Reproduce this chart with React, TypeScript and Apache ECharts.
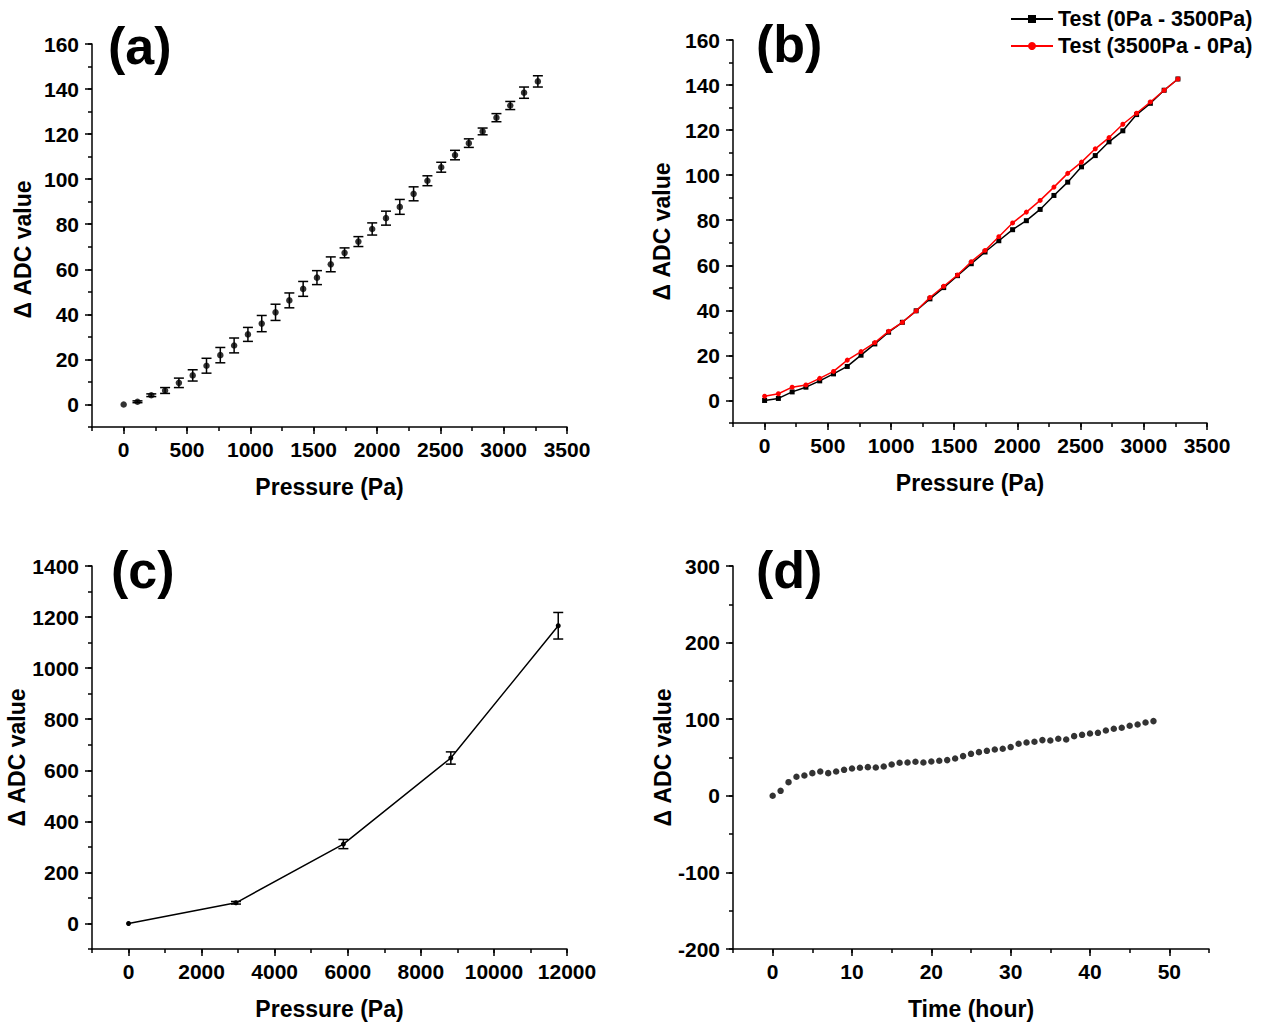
import React, { useEffect, useRef } from "react";
import * as echarts from "echarts";

const FONT = "'Liberation Sans', Arial, Helvetica, sans-serif";

// Panel (a)
const pressureA = [0, 109, 218, 327, 436, 545, 654, 763, 872, 981, 1090, 1199, 1308, 1417, 1526, 1635, 1744, 1853, 1962, 2071, 2180, 2289, 2398, 2507, 2616, 2725, 2834, 2943, 3052, 3161, 3270];
const adcA = [0, 1.2, 4.1, 6.2, 9.6, 12.9, 17.2, 21.9, 26.2, 31.1, 35.9, 40.9, 46.2, 51.3, 56.3, 62.2, 67.3, 72.3, 77.9, 82.7, 87.7, 93.5, 99.3, 105.3, 110.7, 116.0, 121.2, 127.3, 132.7, 138.4, 143.4];
const errA = [0, 0.4, 0.6, 1.3, 2.1, 2.5, 3.3, 3.4, 3.3, 3.1, 3.6, 3.6, 3.3, 3.3, 3.1, 3.3, 2.2, 2.2, 2.7, 3.1, 3.3, 3.1, 2.2, 2.2, 2.1, 1.9, 1.5, 1.8, 1.8, 2.5, 2.5];

// Panel (b)
const nameUp = "Test (0Pa - 3500Pa)";
const nameDown = "Test (3500Pa - 0Pa)";
const pressureB = [0, 109, 218, 327, 436, 545, 654, 763, 872, 981, 1090, 1199, 1308, 1417, 1526, 1635, 1744, 1853, 1962, 2071, 2180, 2289, 2398, 2507, 2616, 2725, 2834, 2943, 3052, 3161, 3270];
const adcUp = [0, 0.9, 3.8, 5.9, 8.7, 11.8, 15.1, 20.1, 25.1, 30.3, 34.7, 39.8, 45.1, 50.1, 55.4, 60.7, 65.9, 70.9, 75.8, 79.8, 84.8, 91.0, 96.9, 103.7, 108.7, 114.8, 119.7, 126.9, 131.9, 137.7, 142.7];
const adcDown = [1.9, 3.0, 5.9, 6.9, 9.8, 12.9, 17.9, 21.7, 25.7, 30.7, 34.7, 39.8, 45.7, 50.7, 55.7, 61.6, 66.6, 72.7, 78.8, 83.6, 88.8, 94.7, 100.8, 105.8, 111.7, 116.7, 122.6, 127.5, 132.5, 137.7, 142.7];

// Panel (c)
const pressureC = [0, 2940, 5880, 8820, 11760];
const adcC = [0, 81, 311, 648, 1166];
const errC = [0, 5, 18, 24, 52];

// Panel (d)
const hoursD = [0, 1, 2, 3, 4, 5, 6, 7, 8, 9, 10, 11, 12, 13, 14, 15, 16, 17, 18, 19, 20, 21, 22, 23, 24, 25, 26, 27, 28, 29, 30, 31, 32, 33, 34, 35, 36, 37, 38, 39, 40, 41, 42, 43, 44, 45, 46, 47, 48];
const adcD = [0, 6.5, 17.8, 24.8, 26.5, 29.6, 31.7, 29.6, 31.7, 33.9, 35.7, 36.6, 37.4, 37.0, 38.3, 40.9, 43.1, 43.5, 44.4, 43.5, 44.8, 45.7, 46.6, 48.7, 51.8, 54.8, 57.0, 58.7, 60.4, 61.4, 63.6, 67.9, 69.6, 70.5, 72.7, 72.2, 74.4, 73.5, 77.9, 79.6, 81.3, 82.2, 85.2, 87.5, 88.8, 91.4, 93.1, 95.7, 97.5];

// Axis tick values
const majorPressure = [0, 500, 1000, 1500, 2000, 2500, 3000, 3500];
const majorAdcAB = [0, 20, 40, 60, 80, 100, 120, 140, 160];
const majorPressureC = [0, 2000, 4000, 6000, 8000, 10000, 12000];
const majorAdcC = [0, 200, 400, 600, 800, 1000, 1200, 1400];
const majorHours = [0, 10, 20, 30, 40, 50];
const majorAdcD = [-200, -100, 0, 100, 200, 300];

const lineStyle = { color: "#000", width: 1.5 };

function mainAxis(
  gridIndex: number,
  isX: boolean,
  min: number,
  max: number,
  minorStep: number,
  majors: number[],
  name: string,
  nameGap: number,
  namePadding: number[] = [0, 0, 0, 0]
) {
  return {
    type: "value",
    gridIndex,
    min,
    max,
    interval: minorStep,
    position: isX ? "bottom" : "left",
    name,
    nameLocation: "middle",
    nameGap,
    nameRotate: isX ? 0 : 90,
    nameTextStyle: {
      fontSize: 23,
      fontWeight: "bold",
      fontFamily: FONT,
      color: "#000",
      padding: namePadding,
    },
    axisLine: { show: true, onZero: false, lineStyle },
    axisTick: { show: true, inside: false, length: 4, lineStyle },
    axisLabel: {
      show: true,
      margin: isX ? 12 : 13,
      fontSize: 21,
      fontWeight: "bold",
      fontFamily: FONT,
      color: "#000",
      formatter: (v: number) => (majors.some((m) => Math.abs(m - v) < 1e-9) ? String(v) : ""),
    },
    splitLine: { show: false },
  };
}

function overlayAxis(gridIndex: number, isX: boolean, min: number, max: number, majors: number[]) {
  return {
    type: "value",
    gridIndex,
    min,
    max,
    position: isX ? "bottom" : "left",
    axisLine: { show: false, onZero: false },
    axisTick: { show: true, inside: false, length: 7, lineStyle, customValues: majors },
    axisLabel: { show: false, customValues: majors },
    splitLine: { show: false },
  };
}

function errorData(xs: number[], ys: number[], es: number[]) {
  const out: number[][] = [];
  for (let i = 0; i < xs.length; i++) {
    if (es[i] > 0) out.push([xs[i], ys[i] - es[i], ys[i] + es[i]]);
  }
  return out;
}

function errorSeries(axisIndex: number, data: number[][]) {
  return {
    type: "custom",
    xAxisIndex: axisIndex,
    yAxisIndex: axisIndex,
    encode: { x: 0, y: [1, 2] },
    data,
    z: 1,
    renderItem: (_params: any, api: any) => {
      const x = api.value(0);
      const lo = api.coord([x, api.value(1)]);
      const hi = api.coord([x, api.value(2)]);
      const w = 5;
      const style = { stroke: "#000", lineWidth: 1.5, fill: "none" };
      return {
        type: "group",
        children: [
          { type: "line", shape: { x1: lo[0], y1: lo[1], x2: hi[0], y2: hi[1] }, style },
          { type: "line", shape: { x1: lo[0] - w, y1: lo[1], x2: lo[0] + w, y2: lo[1] }, style },
          { type: "line", shape: { x1: hi[0] - w, y1: hi[1], x2: hi[0] + w, y2: hi[1] }, style },
        ],
      };
    },
  };
}

function zip(xs: number[], ys: number[]) {
  return xs.map((x, i) => [x, ys[i]]);
}

function panelLabel(text: string, left: number, top: number) {
  return {
    type: "text",
    left,
    top,
    style: { text, font: `bold 52px ${FONT}`, fill: "#000" },
  };
}

export default function App() {
  const ref = useRef<HTMLDivElement>(null);

  useEffect(() => {
    document.body.style.margin = "0";
    if (!ref.current) return;
    const chart = echarts.init(ref.current, undefined, { renderer: "svg" });

    const option: any = {
      animation: false,
      backgroundColor: "#fff",
      grid: [
        { left: 92, top: 44, width: 475, height: 383 },
        { left: 733, top: 40, width: 474, height: 383 },
        { left: 92, top: 566, width: 475, height: 383 },
        { left: 733, top: 566, width: 476, height: 383 },
      ],
      xAxis: [
        mainAxis(0, true, -250, 3500, 250, majorPressure, "Pressure (Pa)", 48),
        overlayAxis(0, true, -250, 3500, majorPressure),
        mainAxis(1, true, -250, 3500, 250, majorPressure, "Pressure (Pa)", 48),
        overlayAxis(1, true, -250, 3500, majorPressure),
        mainAxis(2, true, -1000, 12000, 1000, majorPressureC, "Pressure (Pa)", 48),
        overlayAxis(2, true, -1000, 12000, majorPressureC),
        mainAxis(3, true, -5, 55, 5, majorHours, "Time (hour)", 48),
        overlayAxis(3, true, -5, 55, majorHours),
      ],
      yAxis: [
        mainAxis(0, false, -10, 160, 10, majorAdcAB, "Δ ADC value", 58, [0, 28, 0, 0]),
        overlayAxis(0, false, -10, 160, majorAdcAB),
        mainAxis(1, false, -10, 160, 10, majorAdcAB, "Δ ADC value", 60),
        overlayAxis(1, false, -10, 160, majorAdcAB),
        mainAxis(2, false, -100, 1400, 100, majorAdcC, "Δ ADC value", 64),
        overlayAxis(2, false, -100, 1400, majorAdcC),
        mainAxis(3, false, -200, 300, 50, majorAdcD, "Δ ADC value", 58),
        overlayAxis(3, false, -200, 300, majorAdcD),
      ],
      legend: {
        orient: "vertical",
        left: 1005,
        top: 3,
        itemWidth: 42,
        itemHeight: 10,
        itemGap: 5,
        textStyle: { fontSize: 21.5, fontWeight: "bold", fontFamily: FONT, color: "#000" },
        data: [nameUp, nameDown],
      },
      graphic: [
        panelLabel("(a)", 108, 20),
        panelLabel("(b)", 756, 18),
        panelLabel("(c)", 111, 544),
        panelLabel("(d)", 756, 544),
      ],
      series: [
        errorSeries(0, errorData(pressureA, adcA, errA)),
        {
          type: "scatter",
          xAxisIndex: 0,
          yAxisIndex: 0,
          data: zip(pressureA, adcA),
          symbol: "circle",
          symbolSize: 6.5,
          itemStyle: { color: "#000" },
          z: 2,
        },
        {
          name: nameUp,
          type: "line",
          xAxisIndex: 2,
          yAxisIndex: 2,
          data: zip(pressureB, adcUp),
          symbol: "rect",
          symbolSize: 5,
          itemStyle: { color: "#000" },
          lineStyle: { color: "#000", width: 1.5 },
          z: 2,
        },
        {
          name: nameDown,
          type: "line",
          xAxisIndex: 2,
          yAxisIndex: 2,
          data: zip(pressureB, adcDown),
          symbol: "circle",
          symbolSize: 5,
          itemStyle: { color: "#ff0000" },
          lineStyle: { color: "#ff0000", width: 1.5 },
          z: 3,
        },
        errorSeries(4, errorData(pressureC, adcC, errC)),
        {
          type: "line",
          xAxisIndex: 4,
          yAxisIndex: 4,
          data: zip(pressureC, adcC),
          symbol: "circle",
          symbolSize: 5,
          itemStyle: { color: "#000" },
          lineStyle: { color: "#000", width: 1.5 },
          z: 2,
        },
        {
          type: "scatter",
          xAxisIndex: 6,
          yAxisIndex: 6,
          data: zip(hoursD, adcD),
          symbol: "circle",
          symbolSize: 6.5,
          itemStyle: { color: "#000" },
          z: 2,
        },
      ],
    };

    chart.setOption(option);
    return () => chart.dispose();
  }, []);

  return <div ref={ref} style={{ width: 1264, height: 1024 }} />;
}
